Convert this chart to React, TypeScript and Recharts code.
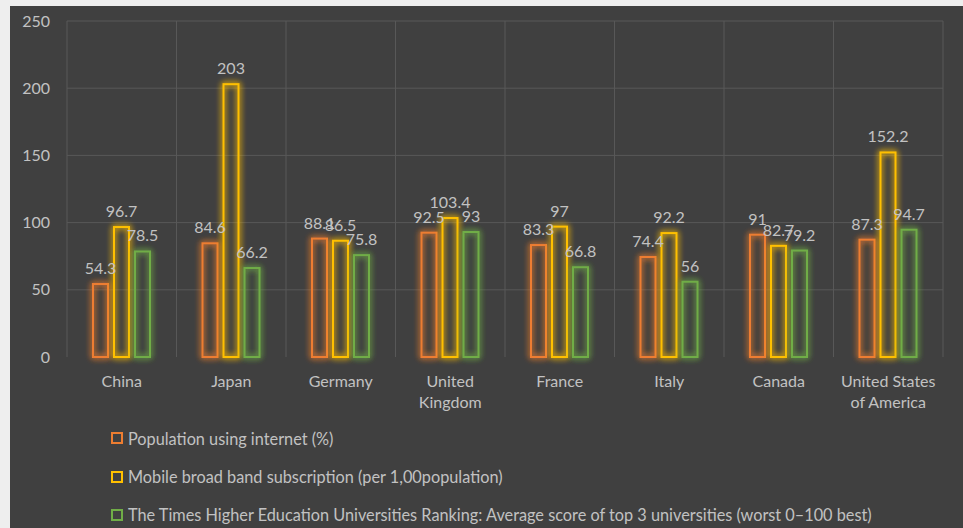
import React from "react";
import { BarChart, Bar, XAxis, YAxis, CartesianGrid, LabelList, Legend } from "recharts";

// Countries (a "\n" marks where the axis label wraps)
const countries = [
  "China",
  "Japan",
  "Germany",
  "United\nKingdom",
  "France",
  "Italy",
  "Canada",
  "United States\nof America",
];

const internetUsers = [54.3, 84.6, 88.1, 92.5, 83.3, 74.4, 91, 87.3];
const mobileBroadband = [96.7, 203, 86.5, 103.4, 97, 92.2, 82.7, 152.2];
const universityScore = [78.5, 66.2, 75.8, 93, 66.8, 56, 79.2, 94.7];

const yTicks = [0, 50, 100, 150, 200, 250];

const seriesNames = [
  "Population using internet (%)",
  "Mobile broad band subscription (per 1,00population)",
  "The Times Higher Education Universities Ranking: Average score of top 3 universities (worst 0\u2013100 best)",
];

const seriesColors = ["#ED7D31", "#FFC000", "#70AD47"];

const data = countries.map((country, i) => ({
  country,
  internet: internetUsers[i],
  mobile: mobileBroadband[i],
  university: universityScore[i],
}));

const seriesKeys = ["internet", "mobile", "university"];

const FONT = "Lato, 'Open Sans', sans-serif";
const TEXT = "#c2c2c2";
const GRID = "#585858";
const BG = "#404040";

const CategoryTick = (props: any) => {
  const { x, y, payload } = props;
  const lines = String(payload.value).split("\n");
  return (
    <text x={x} y={y} textAnchor="middle" fill={TEXT} fontSize={16} fontFamily={FONT}>
      {lines.map((line, i) => (
        <tspan key={i} x={x} dy={i === 0 ? 29.5 : 21.7}>
          {line}
        </tspan>
      ))}
    </text>
  );
};

const GlowBar = (props: any) => {
  const { x, y, width, height, stroke } = props;
  if (!height || height <= 0) return null;
  return (
    <rect
      x={x + 1}
      y={y}
      width={Math.max(width - 2, 0)}
      height={height}
      fill="none"
      stroke={stroke}
      strokeWidth={2}
      filter="url(#barGlow)"
    />
  );
};

const LegendList = () => (
  <div style={{ fontFamily: FONT, fontSize: 16.3, color: TEXT }}>
    {seriesNames.map((name, i) => (
      <div
        key={name}
        style={{ height: 38.4, display: "flex", alignItems: "center", whiteSpace: "nowrap" }}
      >
        <span
          style={{
            display: "inline-block",
            width: 8,
            height: 8,
            border: `2px solid ${seriesColors[i]}`,
            marginRight: 5,
          }}
        />
        <span>{name}</span>
      </div>
    ))}
  </div>
);

const verticalLines = ({ offset }: any) => {
  const step = offset.width / countries.length;
  return Array.from({ length: countries.length + 1 }, (_, i) => offset.left + i * step);
};

export default function App() {
  return (
    <div
      style={{
        position: "absolute",
        left: 0,
        top: 0,
        width: 963,
        height: 528,
        background: "#eeeeee",
        overflow: "hidden",
      }}
    >
      <div
        style={{
          position: "absolute",
          left: 10,
          top: 6,
          width: 953,
          height: 522,
          background: BG,
        }}
      />
      <div style={{ position: "absolute", left: 0, top: 0 }}>
        <BarChart
          width={963}
          height={528}
          data={data}
          margin={{ top: 21, right: 20, bottom: 5.5, left: 10 }}
          barSize={17}
          barGap={4}
        >
          <defs>
            <filter id="barGlow" filterUnits="userSpaceOnUse" x={0} y={0} width={963} height={528}>
              <feGaussianBlur in="SourceGraphic" stdDeviation={3} result="blur" />
              <feMerge>
                <feMergeNode in="blur" />
                <feMergeNode in="blur" />
                <feMergeNode in="SourceGraphic" />
              </feMerge>
            </filter>
          </defs>
          <CartesianGrid
            stroke={GRID}
            strokeWidth={1}
            horizontalValues={[50, 100, 150, 200, 250]}
            verticalCoordinatesGenerator={verticalLines}
          />
          <XAxis
            dataKey="country"
            axisLine={false}
            tickLine={false}
            tickSize={0}
            tickMargin={0}
            height={50}
            interval={0}
            tick={<CategoryTick />}
          />
          <YAxis
            domain={[0, 250]}
            ticks={yTicks}
            axisLine={false}
            tickLine={false}
            tickSize={0}
            tickMargin={17}
            width={57}
            tick={{ fill: TEXT, fontSize: 16, fontFamily: FONT }}
          />
          <Legend
            verticalAlign="bottom"
            align="left"
            content={<LegendList />}
            wrapperStyle={{ left: 111, top: 419, bottom: "auto", height: 115.5, width: 850 }}
          />
          {seriesKeys.map((key, i) => (
            <Bar
              key={key}
              dataKey={key}
              name={seriesNames[i]}
              stroke={seriesColors[i]}
              fill="none"
              shape={<GlowBar />}
              isAnimationActive={false}
            >
              <LabelList
                dataKey={key}
                position="top"
                offset={10}
                fill={TEXT}
                fontSize={16}
                fontFamily={FONT}
              />
            </Bar>
          ))}
        </BarChart>
      </div>
    </div>
  );
}
